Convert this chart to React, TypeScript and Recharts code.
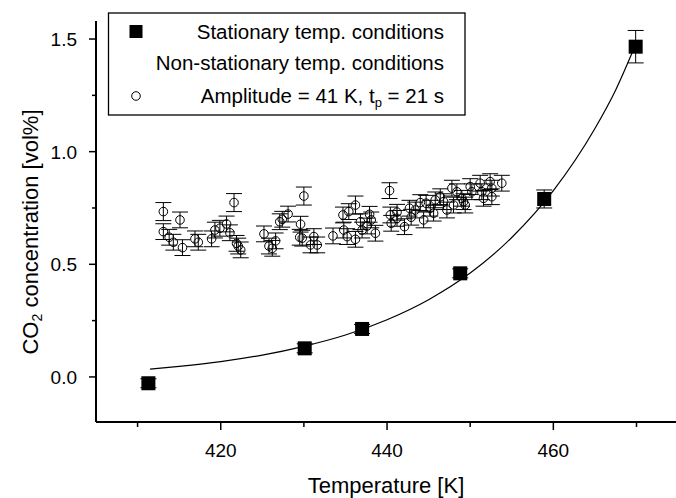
import { ComposedChart, ErrorBar, Line, Scatter, XAxis, YAxis } from "recharts";

// stationary temperature conditions (filled squares)
const stationaryT = [411.3, 430.1, 437.0, 448.8, 458.9, 469.9];
const stationaryC = [-0.028, 0.127, 0.213, 0.46, 0.79, 1.466];
const stationaryErr = [0.02, 0.02, 0.02, 0.02, 0.04, 0.072];

// fitted curve through the stationary points
const fitT = [411.5, 415, 420, 425, 430, 435, 440, 445, 450, 455, 460, 465, 467.5, 469.6];
const fitC = [0.035, 0.047, 0.068, 0.097, 0.136, 0.186, 0.254, 0.343, 0.461, 0.619, 0.827, 1.103, 1.274, 1.45];

// non-stationary: amplitude 41 K, tp = 21 s (open circles)
const pulsedT = [
  413.1, 413.1, 413.8, 414.3, 415.1, 415.4, 416.9, 417.3, 418.9, 419.3,
  419.9, 420.7, 421.1, 421.6, 421.9, 422.1, 422.4, 425.2, 425.8, 426.2,
  426.6, 427.1, 427.4, 428.1, 429.5, 429.6, 429.8, 430.0, 430.8, 431.2,
  431.6, 433.5, 434.7, 434.8, 435.2, 435.4, 436.2, 436.2, 436.8, 437.0,
  437.6, 437.9, 438.1, 438.6, 440.3, 440.4, 440.5, 441.2, 441.2, 442.1,
  442.7, 442.9, 443.4, 444.0, 444.4, 444.7, 445.2, 445.6, 445.8, 446.4,
  446.8, 447.2, 447.8, 448.0, 448.4, 449.0, 449.2, 449.4, 450.0, 450.2,
  451.2, 451.4, 451.6, 452.4, 452.6, 452.6, 453.8,
];
const pulsedC = [
  0.734, 0.645, 0.62, 0.598, 0.697, 0.574, 0.613, 0.598, 0.613, 0.652,
  0.66, 0.679, 0.64, 0.774, 0.593, 0.581, 0.564, 0.635, 0.581, 0.571,
  0.604, 0.689, 0.7, 0.723, 0.62, 0.678, 0.616, 0.803, 0.586, 0.623,
  0.586, 0.626, 0.719, 0.652, 0.623, 0.734, 0.611, 0.763, 0.689, 0.652,
  0.67, 0.722, 0.697, 0.638, 0.827, 0.719, 0.682, 0.731, 0.704, 0.667,
  0.749, 0.709, 0.741, 0.774, 0.697, 0.771, 0.749, 0.727, 0.786, 0.8,
  0.778, 0.741, 0.838, 0.763, 0.822, 0.793, 0.778, 0.763, 0.845, 0.822,
  0.86, 0.822, 0.793, 0.867, 0.838, 0.8, 0.86,
];
const pulsedErr = [
  0.04, 0.035, 0.035, 0.035, 0.035, 0.035, 0.035, 0.035, 0.035, 0.035,
  0.035, 0.035, 0.035, 0.04, 0.035, 0.035, 0.035, 0.035, 0.035, 0.035,
  0.035, 0.035, 0.035, 0.035, 0.035, 0.035, 0.035, 0.04, 0.035, 0.035,
  0.035, 0.035, 0.035, 0.035, 0.035, 0.035, 0.035, 0.04, 0.035, 0.035,
  0.035, 0.035, 0.035, 0.035, 0.035, 0.035, 0.035, 0.035, 0.035, 0.035,
  0.035, 0.035, 0.035, 0.035, 0.035, 0.035, 0.035, 0.035, 0.035, 0.035,
  0.035, 0.035, 0.035, 0.035, 0.035, 0.035, 0.035, 0.035, 0.035, 0.035,
  0.035, 0.035, 0.035, 0.035, 0.035, 0.035, 0.035,
];

const xTicks = [410, 420, 430, 440, 450, 460, 470];
const xLabels = [420, 440, 460];
const yTicks = [0, 0.25, 0.5, 0.75, 1, 1.25, 1.5];
const yLabels = [0, 0.5, 1, 1.5];

const stationary = stationaryT.map((t, i) => ({ t, c: stationaryC[i], err: stationaryErr[i] }));
const fit = fitT.map((t, i) => ({ t, c: fitC[i] }));
const pulsed = pulsedT.map((t, i) => ({ t, c: pulsedC[i], err: pulsedErr[i] }));

const FONT = '"Liberation Sans", Arial, sans-serif';

const XTick = (props: any) => {
  const { x, y, payload } = props;
  const major = xLabels.includes(payload.value);
  return (
    <g>
      <line x1={x} x2={x} y1={y} y2={y + (major ? 8 : 5)} stroke="#000" strokeWidth={1.5} />
      {major && (
        <text x={x} y={y + 35} textAnchor="middle" fontSize={19} fontFamily={FONT} fill="#000">
          {payload.value}
        </text>
      )}
    </g>
  );
};

const YTick = (props: any) => {
  const { x, y, payload } = props;
  const major = yLabels.includes(payload.value);
  return (
    <g>
      <line x1={x} x2={x - (major ? 7 : 4)} y1={y} y2={y} stroke="#000" strokeWidth={1.5} />
      {major && (
        <text x={x - 19} y={y + 7} textAnchor="end" fontSize={19} fontFamily={FONT} fill="#000">
          {payload.value.toFixed(1)}
        </text>
      )}
    </g>
  );
};

const Square = (props: any) => {
  const { cx, cy } = props;
  return <rect x={cx - 7} y={cy - 7} width={14} height={14} fill="#000" />;
};

const Ring = (props: any) => {
  const { cx, cy } = props;
  return <circle cx={cx} cy={cy} r={4.3} fill="none" stroke="#000" strokeWidth={1} />;
};

const App = () => {
  return (
    <div style={{ position: "absolute", left: 0, top: 0, width: 676, height: 498, background: "#fff" }}>
      <ComposedChart
        width={676}
        height={498}
        margin={{ top: 21, right: 0, bottom: 0, left: 0 }}
      >
        <XAxis
          type="number"
          dataKey="t"
          domain={[405, 474.75]}
          ticks={xTicks}
          allowDataOverflow
          axisLine={{ stroke: "#000", strokeWidth: 2 }}
          tickLine={false}
          tickSize={0}
          tickMargin={0}
          tick={<XTick />}
          interval={0}
          height={76}
        />
        <YAxis
          type="number"
          dataKey="c"
          domain={[-0.2, 1.58]}
          ticks={yTicks}
          allowDataOverflow
          axisLine={{ stroke: "#000", strokeWidth: 2 }}
          tickLine={false}
          tickSize={0}
          tickMargin={0}
          tick={<YTick />}
          interval={0}
          width={96}
        />
        <Line
          data={fit}
          dataKey="c"
          type="monotone"
          stroke="#000"
          strokeWidth={1.2}
          dot={false}
          isAnimationActive={false}
        />
        <Scatter data={pulsed} dataKey="c" shape={<Ring />} isAnimationActive={false}>
          <ErrorBar dataKey="err" direction="y" width={8} stroke="#000" strokeWidth={1} />
        </Scatter>
        <Scatter data={stationary} dataKey="c" shape={<Square />} isAnimationActive={false}>
          <ErrorBar dataKey="err" direction="y" width={8} stroke="#000" strokeWidth={1} />
        </Scatter>
      </ComposedChart>
      <svg
        width={676}
        height={498}
        style={{ position: "absolute", left: 0, top: 0, pointerEvents: "none" }}
        fontFamily={FONT}
        fill="#000"
      >
        <rect x={108.5} y={13} width={356.5} height={102} fill="#fff" stroke="#000" strokeWidth={1.3} />
        <rect x={129.5} y={25} width={13} height={13} fill="#000" />
        <text x={444} y={39} textAnchor="end" fontSize={20.5} fill="#000">
          Stationary temp. conditions
        </text>
        <text x={444} y={70} textAnchor="end" fontSize={20.5} fill="#000">
          Non-stationary temp. conditions
        </text>
        <circle cx={136} cy={96} r={4.3} fill="none" stroke="#000" strokeWidth={1} />
        <text x={444} y={103} textAnchor="end" fontSize={20.5} fill="#000">
          Amplitude = 41 K, t
          <tspan fontSize={13} dy={4} fill="#000">p</tspan>
          <tspan dy={-4} fill="#000"> = 21 s</tspan>
        </text>
        <text x={386} y={493} textAnchor="middle" fontSize={22} fill="#000">
          Temperature [K]
        </text>
        <text x={38} y={232} textAnchor="middle" fontSize={22} fill="#000" transform="rotate(-90, 38, 232)">
          CO
          <tspan fontSize={14} dy={4} fill="#000">2</tspan>
          <tspan dy={-4} fill="#000"> concentration [vol%]</tspan>
        </text>
      </svg>
    </div>
  );
};

export default App;
